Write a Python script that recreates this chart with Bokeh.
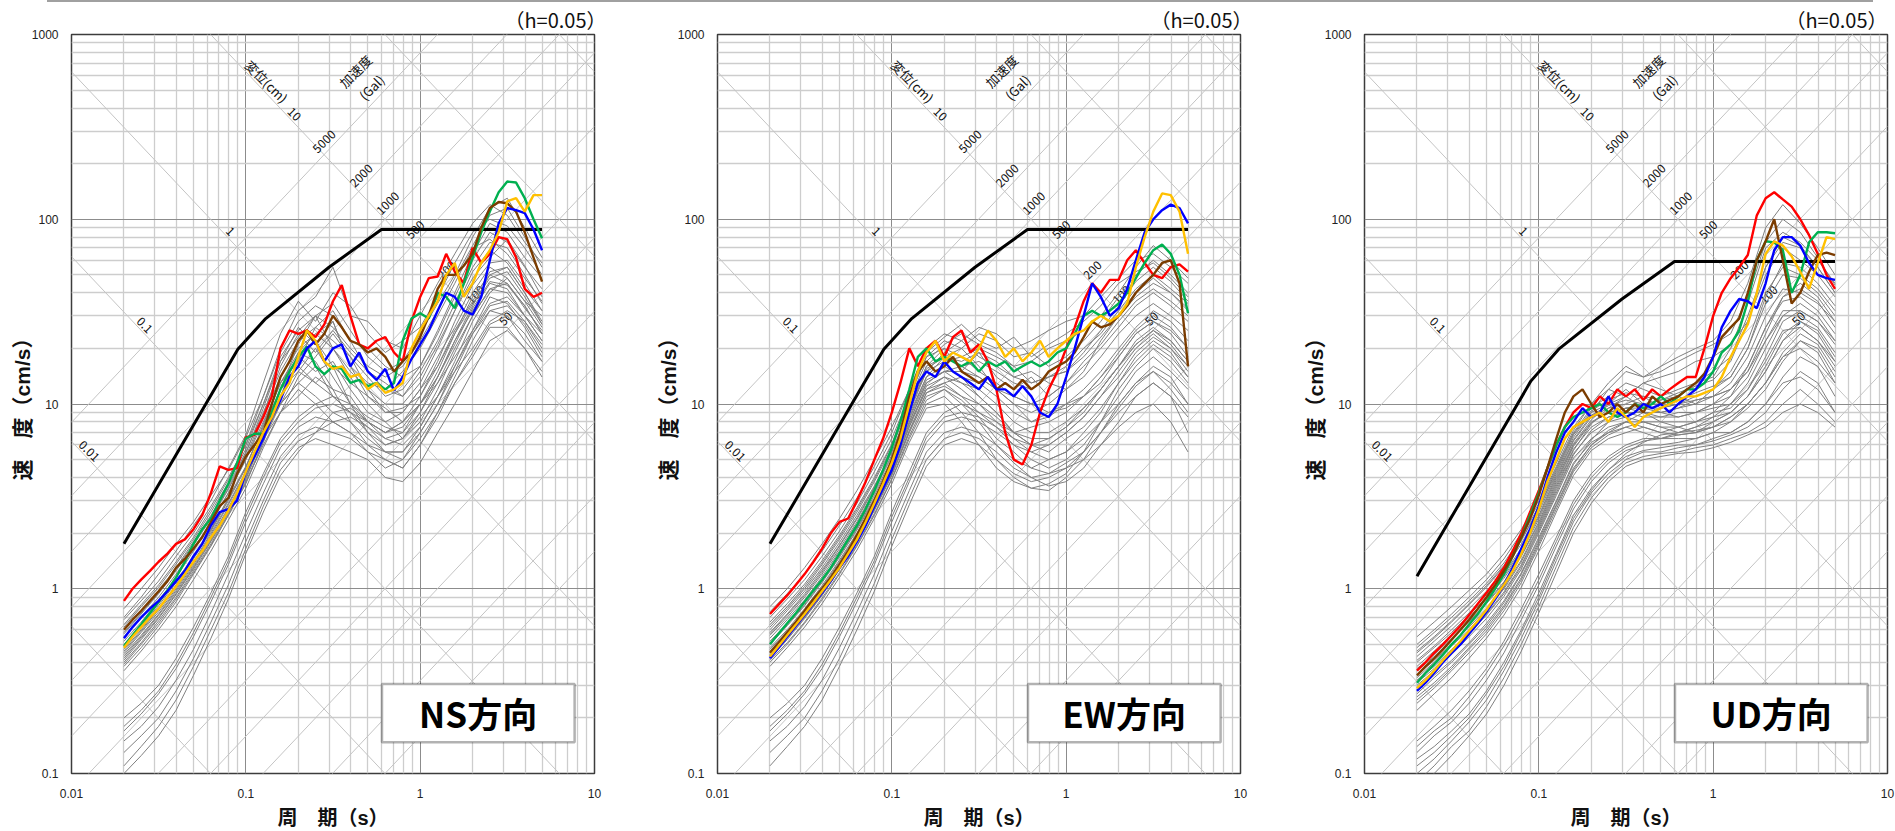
import math
from bokeh.plotting import figure
from bokeh.layouts import row, column
from bokeh.models import (Range1d, FixedTicker, BoxAnnotation, Label, Title, Div,
                          CustomJSTickFormatter)
from bokeh.core.properties import value
from bokeh.embed import file_html
from bokeh.resources import INLINE

FONT = "Noto Sans CJK JP"
AXFONT = "Liberation Sans, Noto Sans CJK JP"
TWO_PI = 2 * math.pi

# ---------------- data ----------------
periods = [0.02, 0.0224, 0.0251, 0.0282, 0.0316, 0.0355, 0.0398, 0.0447, 0.0501, 0.0562,
           0.0631, 0.0708, 0.0794, 0.0891, 0.1, 0.112, 0.126, 0.141, 0.158, 0.178,
           0.2, 0.224, 0.251, 0.282, 0.316, 0.355, 0.398, 0.447, 0.501, 0.562,
           0.631, 0.708, 0.794, 0.891, 1.0, 1.12, 1.26, 1.41, 1.58, 1.78,
           2.0, 2.24, 2.51, 2.82, 3.16, 3.55, 3.98, 4.47, 5.0]
periods_gray = [0.02, 0.0251, 0.0316, 0.0398, 0.0501, 0.0631, 0.0794, 0.1, 0.126, 0.158,
                0.2, 0.251, 0.316, 0.398, 0.501, 0.631, 0.794, 1.0, 1.26, 1.58,
                2.0, 2.51, 3.16, 3.98, 5.0]

# design spectra (black)
design_T = [0.02, 0.09, 0.13, 0.3, 0.6, 5.0]
design_h = [1.75, 19.8, 29, 55, 88, 88]
design_v = [1.17, 13.3, 19.8, 37, 59, 59]

# NS
ns_red = [0.86, 1.0, 1.12, 1.25, 1.4, 1.55, 1.75, 1.85, 2.1, 2.5,
          3.3, 4.6, 4.4, 4.5, 6.6, 6.8, 8.5, 11, 20, 25,
          24, 25, 23, 27, 36, 44, 30, 21, 20, 22,
          23, 19, 17, 28, 38, 48, 49, 65, 52, 45,
          70, 58, 65, 80, 78, 62, 42, 38, 40]
ns_blue = [0.54, 0.62, 0.7, 0.78, 0.86, 0.97, 1.1, 1.25, 1.5, 1.75,
           2.2, 2.6, 2.7, 3.0, 4.3, 5.2, 6.5, 8.5, 10.5, 14,
           16, 20, 22, 17, 20, 21, 16, 19, 15, 13.5,
           15.5, 11.8, 14, 17.5, 21, 25, 32, 40, 38, 32,
           30.5, 38, 60, 95, 115, 112, 108, 88, 68]
ns_brown = [0.6, 0.68, 0.76, 0.86, 0.97, 1.1, 1.3, 1.45, 1.65, 1.9,
            2.3, 2.8, 3.1, 4.2, 5.2, 6.0, 7.0, 10, 14, 17,
            22, 25, 21, 24, 30, 26, 22, 21, 19, 20,
            18, 15, 17, 19, 23, 30, 42, 50, 50, 56,
            65, 90, 115, 124, 122, 110, 85, 62, 46]
ns_green = [0.49, 0.56, 0.64, 0.74, 0.85, 0.98, 1.15, 1.4, 1.75, 2.1,
            2.4, 3.0, 3.7, 4.8, 6.5, 6.9, 6.9, 9, 12, 15,
            18, 20.5, 16, 14.5, 16, 15.5, 13, 13.5, 12.5, 13,
            12, 13, 22, 29, 31, 29, 40, 38, 33, 45,
            62, 85, 110, 140, 160, 158, 130, 100, 79]
ns_yellow = [0.48, 0.55, 0.62, 0.7, 0.78, 0.9, 1.03, 1.2, 1.4, 1.6,
             1.9, 2.2, 2.65, 3.3, 4.3, 5.5, 7.0, 8.5, 11, 13,
             18, 25, 22, 17, 15.5, 16, 14, 14.5, 12, 13,
             11.5, 12, 13, 20, 25, 30, 36, 50, 58, 38,
             45, 58, 68, 85, 125, 130, 110, 135, 135]
ns_gray = [
    [0.78, 1.0, 1.3, 1.75, 2.3, 3.2, 4.4, 6.6, 11, 20, 32, 38, 55, 30, 28, 22, 20, 30, 45, 65, 95, 120, 105, 75, 58],
    [0.68, 0.86, 1.1, 1.5, 2.0, 2.8, 4.0, 6.0, 10, 18, 25, 30, 35, 25, 18, 15, 17, 24, 35, 50, 80, 115, 130, 90, 62],
    [0.6, 0.76, 0.98, 1.3, 1.8, 2.5, 3.6, 5.5, 9, 15, 22, 26, 22, 18, 14, 11, 12, 16, 24, 38, 60, 85, 75, 55, 42],
    [0.55, 0.7, 0.9, 1.2, 1.65, 2.3, 3.3, 5.0, 8, 13, 18, 15, 17, 12, 9, 8, 9, 12, 18, 26, 40, 55, 48, 36, 30],
    [0.5, 0.64, 0.83, 1.1, 1.5, 2.1, 3.1, 4.6, 7.5, 12, 15, 20, 14, 10, 7, 6, 6.5, 9, 14, 22, 32, 45, 42, 30, 24],
    [0.46, 0.59, 0.77, 1.03, 1.4, 2.0, 2.9, 4.3, 7, 10, 13, 11, 9, 8, 6, 5, 4.5, 6, 9, 14, 22, 32, 30, 22, 17],
    [0.43, 0.55, 0.72, 0.96, 1.32, 1.85, 2.7, 4.0, 6.5, 9, 11, 14, 12, 8, 6.5, 5.5, 5, 7, 10, 16, 25, 38, 35, 26, 18],
    [0.4, 0.51, 0.67, 0.9, 1.25, 1.75, 2.55, 3.8, 6, 9, 14, 18, 24, 18, 12, 9, 9, 12, 16, 24, 38, 50, 45, 33, 25],
    [0.64, 0.82, 1.05, 1.4, 1.9, 2.7, 3.9, 6.0, 11, 19, 28, 34, 30, 22, 20, 16, 14, 16, 25, 40, 65, 95, 85, 62, 48],
    [0.52, 0.66, 0.86, 1.15, 1.6, 2.25, 3.3, 5.0, 8.5, 14, 20, 24, 20, 15, 12, 10, 10, 13, 20, 32, 48, 62, 78, 56, 38],
    [0.38, 0.48, 0.63, 0.85, 1.2, 1.7, 2.5, 3.7, 6.2, 11, 17, 26, 32, 22, 15, 12, 11, 14, 21, 32, 52, 68, 58, 42, 32],
    [0.36, 0.46, 0.6, 0.8, 1.12, 1.6, 2.35, 3.5, 5.8, 9, 12, 10, 8, 7, 5.5, 4.5, 5, 6.5, 9, 13, 18, 26, 26, 20, 15],
    [0.7, 0.9, 1.2, 1.6, 2.2, 3.0, 4.5, 6.8, 13, 24, 36, 28, 40, 34, 24, 19, 22, 26, 38, 58, 85, 100, 92, 70, 50],
    [0.58, 0.74, 0.95, 1.28, 1.75, 2.45, 3.5, 5.4, 9.5, 17, 26, 21, 28, 16, 13, 12, 15, 20, 30, 45, 70, 78, 65, 48, 36],
    [0.47, 0.6, 0.78, 1.05, 1.45, 2.05, 3.0, 4.5, 7.8, 13, 19, 17, 12, 11, 8, 7, 8, 11, 16, 25, 36, 52, 55, 40, 28],
    [0.44, 0.56, 0.73, 0.98, 1.35, 1.9, 2.75, 4.1, 7, 12, 21, 30, 20, 14, 10, 8, 6.5, 8, 12, 19, 30, 42, 40, 30, 22],
    [0.41, 0.53, 0.69, 0.93, 1.28, 1.8, 2.6, 3.9, 6.6, 10, 15, 13, 16, 10, 8, 6.5, 6, 7.5, 11, 17, 28, 40, 48, 36, 26],
    [0.62, 0.8, 1.02, 1.36, 1.85, 2.6, 3.75, 5.7, 10, 17, 23, 30, 26, 20, 16, 14, 16, 22, 32, 48, 72, 105, 115, 80, 55],
    [0.57, 0.73, 0.94, 1.25, 1.72, 2.4, 3.45, 5.2, 8.8, 16, 24, 19, 25, 19, 15, 13, 11, 15, 22, 35, 55, 75, 70, 50, 35],
    [0.49, 0.63, 0.81, 1.08, 1.48, 2.08, 3.05, 4.55, 7.6, 13, 17, 22, 16, 13, 11, 9, 9.5, 11, 17, 28, 44, 58, 60, 45, 32],
    [0.45, 0.58, 0.75, 1.0, 1.38, 1.95, 2.85, 4.2, 7.2, 12, 16, 13, 11, 9, 7.5, 6.5, 7, 10, 15, 24, 35, 48, 52, 38, 27],
    [0.42, 0.54, 0.7, 0.94, 1.3, 1.82, 2.65, 4.0, 6.8, 11, 19, 24, 28, 16, 11, 9.5, 8, 10, 14, 21, 33, 46, 44, 34, 24],
    [0.39, 0.5, 0.65, 0.88, 1.22, 1.72, 2.5, 3.75, 6.3, 10, 13, 16, 11, 9, 7, 5.5, 5.5, 7, 10, 15, 24, 34, 36, 28, 20],
    [0.2, 0.24, 0.3, 0.42, 0.62, 0.95, 1.5, 2.6, 4.2, 6.5, 8.5, 10, 11, 10, 8.5, 7.5, 7, 9, 13, 20, 30, 42, 45, 34, 24],
    [0.18, 0.22, 0.28, 0.39, 0.58, 0.9, 1.42, 2.45, 4.0, 6.2, 8, 9.5, 10, 9, 8, 7, 7.5, 10, 14, 22, 34, 50, 55, 40, 27],
    [0.17, 0.21, 0.27, 0.37, 0.55, 0.85, 1.35, 2.3, 3.7, 5.8, 7.5, 8.5, 8, 7, 6, 5.5, 5.5, 7.5, 11, 16, 24, 32, 34, 27, 19],
    [0.15, 0.18, 0.23, 0.32, 0.47, 0.74, 1.2, 2.0, 3.3, 5.2, 6.8, 7.5, 7, 6.5, 5.5, 5, 4.5, 6, 8.5, 13, 19, 27, 30, 24, 17],
    [0.13, 0.16, 0.2, 0.28, 0.42, 0.66, 1.05, 1.8, 3.0, 4.8, 6.3, 7, 8, 8.5, 7.5, 6, 6.5, 8.5, 11, 15, 20, 28, 32, 28, 21],
    [0.11, 0.14, 0.18, 0.25, 0.38, 0.6, 0.95, 1.65, 2.8, 4.4, 5.8, 6.5, 6, 5.5, 5, 4, 3.8, 4.8, 7, 10, 15, 22, 25, 20, 14],
    [0.1, 0.125, 0.16, 0.22, 0.34, 0.54, 0.88, 1.55, 2.6, 4.1, 5.5, 7, 9, 9.5, 8, 7, 8, 10, 13, 18, 25, 35, 38, 30, 22],
]

# EW
ew_red = [0.73, 0.82, 0.92, 1.05, 1.2, 1.4, 1.65, 2.0, 2.3, 2.4,
          3.0, 3.8, 5.0, 6.5, 9, 13, 20, 16, 20, 22,
          18, 23, 25, 19, 21, 17, 12, 7, 5, 4.7,
          6, 9, 12, 15, 20, 26, 36, 45, 40, 47,
          47, 60, 68, 58, 50, 48, 55, 57, 52]
ew_blue = [0.42, 0.48, 0.55, 0.63, 0.72, 0.83, 0.95, 1.1, 1.3, 1.5,
           1.8, 2.2, 2.8, 3.5, 4.4, 6, 9, 13, 15, 14,
           17, 15, 14, 13, 12, 14, 12, 12, 11, 12.5,
           11, 9, 8.5, 10, 14, 20, 30, 45, 38, 30,
           33, 42, 60, 85, 100, 112, 120, 115, 95]
ew_brown = [0.45, 0.51, 0.58, 0.66, 0.76, 0.88, 1.0, 1.15, 1.35, 1.6,
            1.95, 2.4, 3.0, 3.8, 5, 7, 11, 15, 17, 15,
            16, 18, 15, 14, 13, 14, 12, 13, 12, 13.5,
            12, 13, 15, 16, 17, 19, 23, 28, 26, 27,
            30, 34, 40, 45, 50, 58, 60, 45, 16]
ew_green = [0.5, 0.57, 0.65, 0.74, 0.85, 0.98, 1.12, 1.3, 1.55, 1.85,
            2.2, 2.7, 3.4, 4.4, 5.8, 8, 12, 18, 20, 17,
            18, 17, 16, 17, 15, 17, 16, 17, 15, 16,
            17, 16, 17, 19, 20, 24, 30, 32, 30, 32,
            35, 40, 48, 58, 68, 73, 65, 50, 31]
ew_yellow = [0.43, 0.49, 0.56, 0.64, 0.73, 0.84, 0.97, 1.12, 1.3, 1.55,
             1.85, 2.3, 2.9, 3.7, 4.8, 6.5, 10, 15, 19, 22,
             17, 19, 18, 17, 20, 25, 22, 18, 20, 17,
             19, 22, 18, 20, 22, 24, 25, 28, 30, 28,
             30, 35, 55, 80, 110, 138, 135, 110, 65]
ew_gray = [
    [0.8, 1.0, 1.3, 1.75, 2.4, 3.4, 5.0, 7.5, 12, 20, 24, 22, 26, 24, 20, 22, 25, 28, 30, 38, 48, 60, 65, 55, 45],
    [0.7, 0.88, 1.12, 1.5, 2.05, 2.9, 4.3, 6.5, 11, 18, 20, 18, 20, 18, 16, 17, 20, 22, 25, 30, 40, 55, 72, 60, 48],
    [0.62, 0.78, 1.0, 1.35, 1.85, 2.6, 3.8, 5.8, 10, 16, 18, 16, 17, 15, 13, 12, 14, 16, 20, 24, 32, 42, 50, 42, 35],
    [0.56, 0.7, 0.9, 1.2, 1.65, 2.3, 3.4, 5.2, 9, 15, 17, 18, 15, 13, 11, 10, 11, 13, 16, 20, 26, 34, 40, 34, 28],
    [0.52, 0.65, 0.84, 1.12, 1.55, 2.15, 3.2, 4.9, 8.5, 14, 16, 14, 13, 11, 9, 8, 8.5, 10, 12, 15, 20, 26, 32, 28, 22],
    [0.48, 0.6, 0.78, 1.04, 1.43, 2.0, 3.0, 4.6, 8, 13, 15, 13, 11, 9, 7, 6, 6, 7, 8.5, 11, 15, 20, 24, 20, 16],
    [0.45, 0.57, 0.73, 0.98, 1.35, 1.9, 2.8, 4.3, 7.5, 12, 13, 11, 9, 7.5, 6, 5, 4.5, 5, 6, 8, 11, 15, 18, 15, 12],
    [0.42, 0.53, 0.69, 0.92, 1.27, 1.8, 2.65, 4.1, 7, 11, 12, 10, 8, 6, 4.8, 4, 3.6, 3.8, 4.5, 6, 8, 11, 13, 11, 8.5],
    [0.4, 0.5, 0.65, 0.87, 1.2, 1.7, 2.5, 3.9, 6.5, 10, 11, 9, 7, 5, 4, 3.5, 3.4, 4, 5, 7, 10, 13, 15, 12, 9],
    [0.66, 0.83, 1.06, 1.42, 1.95, 2.75, 4.0, 6.1, 11, 18, 22, 20, 24, 22, 18, 19, 16, 18, 22, 28, 38, 50, 60, 50, 40],
    [0.58, 0.73, 0.94, 1.26, 1.72, 2.42, 3.55, 5.5, 9.5, 15, 19, 22, 18, 16, 14, 15, 13, 12, 15, 22, 30, 38, 45, 40, 33],
    [0.5, 0.63, 0.81, 1.08, 1.48, 2.08, 3.05, 4.7, 8, 13, 15, 16, 14, 12, 10, 9, 10, 12, 14, 18, 24, 30, 35, 30, 25],
    [0.38, 0.48, 0.62, 0.83, 1.15, 1.62, 2.4, 3.7, 6.2, 9.5, 10, 8, 6, 4.5, 3.8, 3.5, 3.7, 4.2, 5.5, 8, 12, 16, 20, 17, 13],
    [0.75, 0.94, 1.2, 1.6, 2.2, 3.1, 4.6, 7.0, 12, 19, 23, 27, 22, 20, 23, 18, 21, 24, 28, 34, 45, 52, 58, 48, 38],
    [0.6, 0.76, 0.97, 1.3, 1.78, 2.5, 3.6, 5.5, 9.5, 16, 20, 15, 19, 14, 12, 14, 11, 13, 17, 21, 28, 36, 42, 36, 30],
    [0.54, 0.68, 0.87, 1.16, 1.6, 2.25, 3.3, 5.0, 8.8, 14, 18, 20, 16, 12, 10, 8, 9, 10, 11, 13, 18, 24, 28, 24, 18],
    [0.47, 0.59, 0.76, 1.02, 1.4, 1.98, 2.9, 4.5, 7.8, 12, 14, 12, 10, 8, 6.5, 5.5, 5, 5.5, 7, 9, 13, 17, 21, 18, 14],
    [0.44, 0.55, 0.71, 0.95, 1.31, 1.85, 2.72, 4.2, 7.2, 11.5, 13, 14, 11, 9, 7, 6.5, 6.5, 7.5, 9, 12, 16, 22, 26, 22, 17],
    [0.64, 0.8, 1.03, 1.38, 1.9, 2.68, 3.9, 6.0, 10.5, 17, 21, 24, 21, 19, 16, 13, 14, 15, 19, 25, 34, 46, 55, 46, 36],
    [0.57, 0.72, 0.92, 1.23, 1.7, 2.38, 3.5, 5.3, 9.2, 15.5, 18, 17, 19, 17, 14, 13, 14, 15, 18, 23, 30, 40, 48, 40, 32],
    [0.51, 0.64, 0.82, 1.1, 1.51, 2.12, 3.1, 4.8, 8.3, 13.5, 15, 15, 14, 12, 11, 10, 9, 9.5, 11, 14, 19, 25, 30, 26, 20],
    [0.46, 0.58, 0.75, 1.0, 1.38, 1.95, 2.85, 4.4, 7.6, 12.5, 14, 13, 12, 10, 8, 7, 7, 8, 9.5, 12, 16, 21, 25, 21, 16],
    [0.43, 0.54, 0.7, 0.93, 1.29, 1.82, 2.68, 4.15, 7.1, 11.5, 12.5, 11, 10, 8.5, 7, 6, 5.5, 6.5, 7.5, 9.5, 13, 18, 22, 19, 14],
    [0.41, 0.51, 0.66, 0.89, 1.22, 1.72, 2.55, 3.95, 6.7, 10.5, 12, 10.5, 8.5, 6.5, 5.5, 4.5, 4.2, 4.5, 5.5, 7, 9.5, 12.5, 15, 13, 10],
    [0.2, 0.24, 0.3, 0.42, 0.62, 0.95, 1.5, 2.6, 4.3, 7, 9, 10, 9, 8, 7, 7.5, 8, 9, 11, 14, 18, 24, 28, 25, 20],
    [0.18, 0.22, 0.28, 0.39, 0.58, 0.9, 1.42, 2.45, 4.0, 6.6, 8.5, 9, 8.5, 7.5, 6.5, 6, 6.5, 7.5, 9.5, 12, 16, 21, 25, 22, 17],
    [0.17, 0.21, 0.27, 0.37, 0.55, 0.85, 1.35, 2.3, 3.8, 6.2, 8, 8.5, 8, 7, 6, 5.5, 6, 7, 8.5, 11, 14, 19, 23, 20, 15],
    [0.15, 0.18, 0.23, 0.32, 0.48, 0.75, 1.2, 2.05, 3.4, 5.5, 7, 7.5, 7, 6, 5, 4.5, 5, 5.5, 6.5, 8, 10, 13, 16, 14, 10],
    [0.13, 0.16, 0.2, 0.28, 0.42, 0.67, 1.07, 1.85, 3.1, 5.0, 6.5, 7, 6.5, 5.5, 4.5, 4, 4.2, 4.8, 5.5, 7, 9, 11, 13, 11, 7],
    [0.11, 0.14, 0.18, 0.25, 0.38, 0.6, 0.97, 1.7, 2.85, 4.6, 6, 6.5, 6, 5, 4.2, 3.8, 4, 4.5, 5, 6, 7.5, 9, 10, 8, 5.5],
]

# UD
ud_red = [0.36, 0.40, 0.45, 0.5, 0.56, 0.63, 0.72, 0.83, 0.95, 1.1,
          1.3, 1.6, 2.0, 2.6, 3.4, 4.5, 6.0, 7.5, 9, 10,
          9.5, 11, 10, 12, 11, 12, 10.5, 12, 11, 12,
          13, 14, 14, 20, 30, 40, 48, 55, 64, 105,
          130, 140, 128, 117, 100, 82, 65, 50, 42]
ud_blue = [0.28, 0.31, 0.35, 0.4, 0.45, 0.5, 0.57, 0.65, 0.75, 0.88,
           1.05, 1.3, 1.65, 2.1, 2.8, 4.0, 5.5, 7, 8, 9.5,
           8.5, 9, 11, 9, 8.5, 9, 10, 9.5, 10, 9,
           10, 11, 12, 14, 18, 26, 32, 37, 36, 33,
           45, 68, 80, 80, 72, 58, 50, 48, 47]
ud_brown = [0.34, 0.38, 0.42, 0.47, 0.53, 0.6, 0.68, 0.78, 0.9, 1.05,
            1.25, 1.5, 1.9, 2.4, 3.2, 4.5, 6.5, 9, 11, 12,
            10, 8.5, 9, 10, 9, 10, 9, 11, 10, 10.5,
            11, 12, 13, 14.6, 18, 23, 26, 29, 40, 60,
            76, 100, 60, 35, 40, 52, 64, 66, 64]
ud_green = [0.31, 0.35, 0.39, 0.44, 0.5, 0.56, 0.64, 0.73, 0.85, 1.0,
            1.2, 1.5, 1.9, 2.5, 3.3, 4.5, 6, 7.5, 8.5, 9,
            9.5, 10, 9, 8.5, 9, 10, 9.5, 10, 11, 10,
            11, 12, 12, 13, 15, 19, 21, 25, 36, 60,
            76, 75, 68, 40, 50, 75, 85, 85, 84]
ud_yellow = [0.29, 0.32, 0.36, 0.41, 0.46, 0.52, 0.59, 0.67, 0.77, 0.9,
             1.05, 1.25, 1.55, 2.0, 2.7, 3.8, 5, 6.5, 7.5, 8,
             8.5, 9, 8, 9.5, 8.5, 7.5, 8.5, 9, 9.5, 10,
             10.5, 11, 11, 11.5, 12, 14, 18, 22, 27, 40,
             65, 76, 72, 63, 52, 42, 58, 80, 78]
ud_gray = [
    [0.55, 0.66, 0.8, 0.98, 1.2, 1.55, 2.1, 3.0, 4.8, 7.5, 10, 12, 15, 14, 16, 18, 20, 22, 28, 45, 90, 120, 95, 70, 50],
    [0.48, 0.58, 0.7, 0.86, 1.07, 1.38, 1.9, 2.8, 4.5, 7, 9.5, 11, 13, 12, 11, 12, 13, 14, 20, 35, 70, 85, 75, 60, 45],
    [0.43, 0.52, 0.63, 0.78, 0.97, 1.26, 1.75, 2.6, 4.2, 6.6, 9, 10, 11, 13, 14, 15, 17, 18, 21, 28, 50, 70, 60, 50, 38],
    [0.4, 0.48, 0.58, 0.72, 0.9, 1.17, 1.62, 2.45, 4.0, 6.3, 8.5, 9.5, 10, 11, 9.5, 10, 11, 12, 15, 22, 40, 55, 50, 42, 32],
    [0.37, 0.44, 0.54, 0.67, 0.84, 1.09, 1.52, 2.3, 3.8, 6.0, 8, 9, 9.5, 9, 9, 9.5, 10, 11, 13, 18, 30, 42, 40, 35, 28],
    [0.34, 0.41, 0.5, 0.62, 0.78, 1.02, 1.43, 2.2, 3.6, 5.7, 7.5, 8.5, 9, 8.5, 8.5, 9, 9, 10, 11, 14, 22, 32, 32, 28, 22],
    [0.32, 0.38, 0.47, 0.58, 0.73, 0.96, 1.35, 2.1, 3.4, 5.4, 7, 8, 8.5, 8, 8, 8, 8, 9, 9.5, 12, 17, 25, 26, 22, 17],
    [0.3, 0.36, 0.44, 0.55, 0.69, 0.91, 1.28, 2.0, 3.2, 5.1, 6.5, 7.5, 8, 7.5, 7, 7.5, 7, 7.5, 8, 10, 13, 18, 20, 17, 13],
    [0.28, 0.34, 0.41, 0.51, 0.65, 0.86, 1.22, 1.9, 3.0, 4.8, 6.2, 7, 7.5, 7, 6.5, 6.5, 6.5, 7, 7, 8, 10, 13, 14, 12, 9],
    [0.26, 0.31, 0.38, 0.48, 0.61, 0.81, 1.15, 1.8, 2.85, 4.5, 6, 7, 8, 9, 8, 7.5, 8, 9, 11, 16, 26, 38, 45, 38, 28],
    [0.24, 0.29, 0.36, 0.45, 0.57, 0.76, 1.08, 1.7, 2.7, 4.3, 5.8, 6.8, 7.5, 8, 7.5, 7, 7.5, 8.5, 10, 13, 20, 30, 35, 30, 22],
    [0.22, 0.27, 0.33, 0.42, 0.54, 0.72, 1.02, 1.6, 2.6, 4.1, 5.6, 6.5, 7, 7.5, 7, 6.8, 7, 8, 9, 11, 15, 22, 26, 22, 16],
    [0.5, 0.6, 0.73, 0.9, 1.12, 1.45, 2.0, 2.9, 4.6, 7.2, 10, 13, 16, 14, 15, 17, 19, 21, 24, 38, 75, 100, 85, 62, 44],
    [0.45, 0.54, 0.66, 0.82, 1.02, 1.32, 1.82, 2.7, 4.3, 6.8, 9, 12, 11, 13, 12, 11, 13, 15, 18, 30, 55, 75, 70, 55, 40],
    [0.38, 0.46, 0.56, 0.7, 0.88, 1.14, 1.58, 2.38, 3.9, 6.1, 8.2, 10, 12, 10, 10.5, 11, 10, 12, 14, 20, 35, 50, 48, 40, 30],
    [0.33, 0.4, 0.49, 0.6, 0.76, 1.0, 1.4, 2.15, 3.5, 5.6, 7.8, 9.5, 11, 9.5, 9, 9.5, 10.5, 11, 12, 16, 26, 36, 38, 32, 24],
    [0.27, 0.33, 0.4, 0.5, 0.63, 0.84, 1.2, 1.85, 2.95, 4.7, 6.4, 8, 9.5, 10, 9, 8.5, 9, 10, 12, 15, 22, 30, 30, 26, 19],
    [0.46, 0.55, 0.67, 0.83, 1.04, 1.34, 1.85, 2.72, 4.4, 6.9, 9.2, 10.5, 11.5, 11, 10.5, 11.5, 12.5, 13.5, 17, 28, 55, 80, 72, 55, 40],
    [0.41, 0.49, 0.6, 0.74, 0.93, 1.2, 1.66, 2.5, 4.1, 6.4, 8.7, 9.8, 10.5, 10, 10, 10.5, 11.5, 12.5, 14, 20, 38, 58, 55, 45, 34],
    [0.36, 0.43, 0.53, 0.66, 0.83, 1.07, 1.5, 2.25, 3.7, 5.9, 7.9, 9, 9.5, 9.5, 9.5, 10, 10.5, 11, 12, 15, 24, 38, 42, 36, 26],
    [0.31, 0.37, 0.46, 0.57, 0.72, 0.94, 1.32, 2.05, 3.3, 5.3, 7.2, 8.5, 9, 9, 8.5, 8.5, 9, 9.5, 10, 12, 18, 28, 32, 28, 21],
    [0.25, 0.3, 0.37, 0.47, 0.59, 0.79, 1.12, 1.75, 2.8, 4.4, 6, 7.2, 8, 8, 7.5, 7.5, 8, 8.5, 9, 11, 16, 24, 28, 24, 17],
    [0.15, 0.18, 0.22, 0.28, 0.37, 0.52, 0.78, 1.2, 1.9, 3.0, 4.2, 5.2, 6, 6.5, 6.5, 7, 7.5, 8, 9, 11, 15, 22, 28, 25, 18],
    [0.14, 0.17, 0.2, 0.26, 0.35, 0.49, 0.73, 1.12, 1.8, 2.85, 4.0, 5.0, 5.8, 6.3, 6.5, 6.8, 7, 7.5, 8.5, 10, 13, 19, 24, 21, 15],
    [0.13, 0.16, 0.19, 0.24, 0.32, 0.45, 0.68, 1.05, 1.7, 2.7, 3.8, 4.8, 5.6, 6, 6, 6.2, 6.5, 7, 8, 9.5, 12, 17, 22, 20, 14],
    [0.12, 0.14, 0.17, 0.21, 0.28, 0.4, 0.6, 0.95, 1.55, 2.5, 3.5, 4.4, 5.2, 5.6, 5.8, 6, 6, 6.5, 7, 8, 10, 14, 18, 16, 11],
    [0.11, 0.13, 0.16, 0.2, 0.27, 0.38, 0.58, 0.9, 1.5, 2.4, 3.4, 4.4, 5.4, 6.2, 6.8, 7, 7.2, 7.5, 8.5, 10, 13, 18, 22, 19, 13],
    [0.1, 0.12, 0.15, 0.19, 0.25, 0.36, 0.54, 0.86, 1.42, 2.3, 3.3, 4.2, 5, 5.5, 5.5, 5.8, 6, 6.3, 6.8, 7.5, 9, 12, 15, 13, 9],
    [0.09, 0.11, 0.14, 0.17, 0.23, 0.33, 0.5, 0.8, 1.32, 2.15, 3.1, 4, 4.8, 5.2, 5.4, 5.5, 5.8, 6, 6.5, 7, 8, 10, 12, 10, 8],
    [0.085, 0.1, 0.125, 0.16, 0.21, 0.3, 0.46, 0.74, 1.22, 2.0, 2.9, 3.8, 4.6, 5, 5.2, 5.4, 5.5, 5.8, 6.2, 6.8, 7.5, 9, 10, 9, 7.5],
]

# axis ticks / tripartite grid values
x_ticks = [0.01, 0.1, 1, 10]
y_ticks = [0.1, 1, 10, 100, 1000]
x_minor = [m * d for d in (0.01, 0.1, 1) for m in range(2, 10)]
y_minor = [m * d for d in (0.1, 1, 10, 100) for m in range(2, 10)]

disp_lines = [0.001, 0.01, 0.1, 1, 10, 100, 1000]
acc_lines = [1, 2, 5, 10, 20, 50, 100, 200, 500, 1000, 2000, 5000]

disp_labels = ["0.01", "0.1", "1", "10"]
disp_label_values = [0.01, 0.1, 1, 10]
disp_label_periods = [0.012, 0.025, 0.0775, 0.18]
acc_labels = ["5000", "2000", "1000", "500", "200", "100", "50"]
acc_label_values = [5000, 2000, 1000, 500, 200, 100, 50]
acc_label_periods = [0.30, 0.49, 0.695, 1.0, 1.51, 2.22, 3.3]

colors = {"red": "#ff0000", "blue": "#0000ff", "brown": "#7b3c00",
          "green": "#00b050", "yellow": "#ffc000"}


def make_panel(tag, gray, series, design_sv, border_left, border_right, title_offset):
    fig_w = border_left + 523 + border_right
    p = figure(x_axis_type="log", y_axis_type="log",
               x_range=Range1d(0.01, 10), y_range=Range1d(0.1, 1000),
               width=fig_w, height=829,
               min_border_left=border_left, min_border_right=border_right,
               min_border_top=30, min_border_bottom=57,
               toolbar_location=None, output_backend="svg",
               background_fill_color="white", border_fill_color="white")
    p.outline_line_color = "#3c3c3c"
    p.outline_line_width = 1.5

    for ax, ticks, minor in ((p.xaxis[0], x_ticks, x_minor), (p.yaxis[0], y_ticks, y_minor)):
        ax.ticker = FixedTicker(ticks=ticks, minor_ticks=minor)
        ax.formatter = CustomJSTickFormatter(code="return String(tick);")
        ax.major_tick_line_color = None
        ax.minor_tick_line_color = None
        ax.major_tick_out = 0
        ax.minor_tick_out = 0
        ax.major_tick_in = 0
        ax.minor_tick_in = 0
        ax.axis_line_color = None
        ax.major_label_text_font = "Liberation Sans"
        ax.major_label_text_font_size = "12px"
        ax.major_label_text_color = "#222222"
        ax.axis_label_text_font = AXFONT
        ax.axis_label_text_font_style = "bold"
        ax.axis_label_text_color = "#111111"
    p.xaxis.axis_label = "周　期（s）"
    p.yaxis.axis_label = "速　度（cm/s）"
    p.xaxis.axis_label_text_font_size = "20px"
    p.yaxis.axis_label_text_font_size = "21px"
    p.xaxis.major_label_standoff = 15
    p.xaxis.axis_label_standoff = 6
    p.yaxis.major_label_standoff = 13
    p.yaxis.axis_label_standoff = -5

    p.grid.grid_line_color = "#8c8c8c"
    p.grid.grid_line_width = 1
    p.grid.minor_grid_line_color = "#cdcdcd"
    p.grid.minor_grid_line_width = 1.3

    # tripartite diagonals
    xs = [[0.01, 10] for _ in disp_lines] + [[0.01, 10] for _ in acc_lines]
    ys = [[TWO_PI * d / 0.01, TWO_PI * d / 10] for d in disp_lines] + \
         [[a * 0.01 / TWO_PI, a * 10 / TWO_PI] for a in acc_lines]
    p.multi_line(xs, ys, line_color="#c4c4c4", line_width=1)

    # diagonal labels
    p.text(x=disp_label_periods,
           y=[TWO_PI * d / t for d, t in zip(disp_label_values, disp_label_periods)],
           text=disp_labels, angle=-math.pi / 4, x_offset=4, y_offset=-5,
           text_font=value(FONT), text_font_size="12px", text_color="#111111",
           text_align="center", text_baseline="middle")
    p.text(x=[0.123], y=[TWO_PI * 10 / 0.123], text=["変位(cm)"], angle=-math.pi / 4,
           x_offset=5, y_offset=-7, text_font=value(FONT), text_font_size="13px",
           text_color="#111111", text_align="center", text_baseline="middle")
    p.text(x=acc_label_periods,
           y=[a * t / TWO_PI for a, t in zip(acc_label_values, acc_label_periods)],
           text=acc_labels, angle=math.pi / 4, x_offset=-5, y_offset=-8,
           text_font=value(FONT), text_font_size="12px", text_color="#111111",
           text_align="center", text_baseline="middle")
    p.text(x=[0.473], y=[10000 * 0.473 / TWO_PI], text=["加速度\n(Gal)"], angle=math.pi / 4,
           x_offset=0, y_offset=22, text_font=value(FONT), text_font_size="13px",
           text_color="#111111", text_align="center", text_baseline="middle")

    # observed spectra (gray)
    p.multi_line([periods_gray for _ in gray], gray, line_color="#808080", line_width=1)
    # design spectrum
    p.line(design_T, design_sv, line_color="black", line_width=3)
    # highlighted spectra
    for cname, vals in series:
        p.line(periods, vals, line_color=colors[cname], line_width=2.4)

    # direction box
    p.add_layout(BoxAnnotation(left=0.604, right=7.69, bottom=0.1475, top=0.305,
                               fill_color="white", fill_alpha=1.0,
                               line_color="black", line_width=2.5))
    p.add_layout(Label(x=2.15, y=0.2135, text=tag, text_align="center",
                       text_baseline="middle", text_font=FONT, text_font_size="35px",
                       text_font_style="bold", text_color="black"))
    p.add_layout(Title(text="（h=0.05）", align="right", text_font=FONT,
                       text_font_size="20px", text_font_style="normal",
                       text_color="#111111", standoff=1, offset=title_offset), "above")
    return p


p1 = make_panel("NS方向", ns_gray,
                [("red", ns_red), ("green", ns_green), ("brown", ns_brown),
                 ("blue", ns_blue), ("yellow", ns_yellow)], design_h, 71, 52, -12)
p2 = make_panel("EW方向", ew_gray,
                [("red", ew_red), ("green", ew_green), ("brown", ew_brown),
                 ("blue", ew_blue), ("yellow", ew_yellow)], design_h, 71, 52, -12)
p3 = make_panel("UD方向", ud_gray,
                [("red", ud_red), ("green", ud_green), ("brown", ud_brown),
                 ("blue", ud_blue), ("yellow", ud_yellow)], design_v, 72, 8, 0)

top_rule = Div(text="", width=1826, height=2, margin=(0, 0, 0, 47),
               styles={"background-color": "#a0a0a0"})
layout = column(top_rule, row(p1, p2, p3, spacing=0), spacing=0)

open("out.html", "w").write(file_html(layout, INLINE))
